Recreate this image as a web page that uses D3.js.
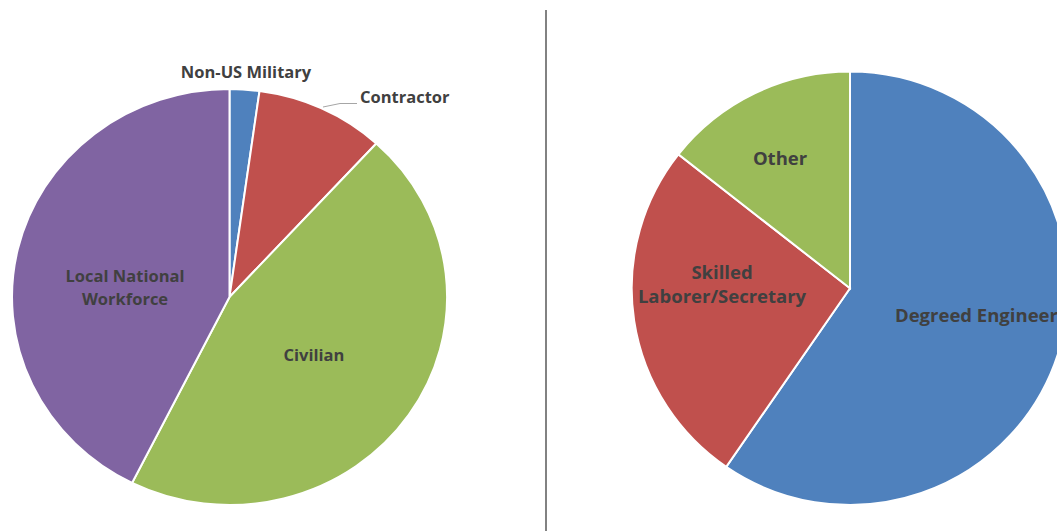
<!DOCTYPE html>
<html><head><meta charset="utf-8">
<script src="https://cdn.jsdelivr.net/npm/d3@7"></script>
<style>html,body{margin:0;padding:0;background:#fff;}svg{display:block;}</style>
</head><body>
<svg id="c" width="1057" height="531"></svg>
<script>
// Left pie data
const leftCategories = ["Non-US Military", "Contractor", "Civilian", "Local National Workforce"];
const leftValues = [2.2, 9.6, 45.6, 42.6];
const leftColors = ["#4F81BD", "#C0504D", "#9BBB59", "#8064A2"];
// Right pie data
const rightCategories = ["Degreed Engineer", "Skilled Laborer/Secretary", "Other"];
const rightValues = [59.6, 26.0, 14.4];
const rightColors = ["#4F81BD", "#C0504D", "#9BBB59"];

const svg = d3.select("#c");
const font = "'Open Sans', Lato, sans-serif";

function drawPie(cfg) {
  const g = svg.append("g").attr("transform", `translate(${cfg.cx},${cfg.cy})`);
  const pie = d3.pie().sort(null).value(d => d.v);
  const arcs = pie(cfg.cats.map((c, i) => ({c, v: cfg.vals[i], col: cfg.colors[i]})));
  const arc = d3.arc().innerRadius(0).outerRadius(1);
  const sg = g.append("g").attr("transform", `scale(${cfg.rx},${cfg.ry})`);
  sg.selectAll("path").data(arcs).join("path")
    .attr("d", arc)
    .attr("fill", d => d.data.col)
    .attr("stroke", "#fff")
    .attr("stroke-width", 2)
    .attr("vector-effect", "non-scaling-stroke");
  cfg.labels.forEach(l => {
    const t = g.append("text")
      .attr("x", l.x - cfg.cx).attr("y", l.y - cfg.cy)
      .attr("text-anchor", l.anchor || "middle")
      .attr("font-family", font).attr("font-weight", "bold")
      .attr("font-size", cfg.fontSize).attr("fill", "#404040");
    l.lines.forEach((ln, i) => {
      t.append("tspan").attr("x", l.x - cfg.cx).attr("dy", i === 0 ? 0 : cfg.lineH).text(ln);
    });
  });
  return g;
}

drawPie({
  cx: 229.5, cy: 297, rx: 217.5, ry: 208, fontSize: 16.5, lineH: 23,
  cats: leftCategories, vals: leftValues, colors: leftColors,
  labels: [
    {x: 246, y: 78, lines: ["Non-US Military"]},
    {x: 360, y: 103, anchor: "start", lines: ["Contractor"]},
    {x: 314, y: 361, lines: ["Civilian"]},
    {x: 125, y: 282, lines: ["Local National", "Workforce"]}
  ]
});
// leader line for Contractor
svg.append("path")
  .attr("d", "M323,107 L340,103.5 L357,103.5")
  .attr("fill", "none").attr("stroke", "#A6A6A6").attr("stroke-width", 1);

drawPie({
  cx: 850, cy: 288.3, rx: 218.3, ry: 216.7, fontSize: 18.5, lineH: 24,
  cats: rightCategories, vals: rightValues, colors: rightColors,
  labels: [
    {x: 895, y: 322, anchor: "start", lines: ["Degreed Engineer"]},
    {x: 722, y: 279, lines: ["Skilled", "Laborer/Secretary"]},
    {x: 780, y: 165, lines: ["Other"]}
  ]
});

// divider
svg.append("line").attr("x1", 546).attr("x2", 546).attr("y1", 10).attr("y2", 531)
  .attr("stroke", "#595959").attr("stroke-width", 1.5);
</script>
</body></html>
